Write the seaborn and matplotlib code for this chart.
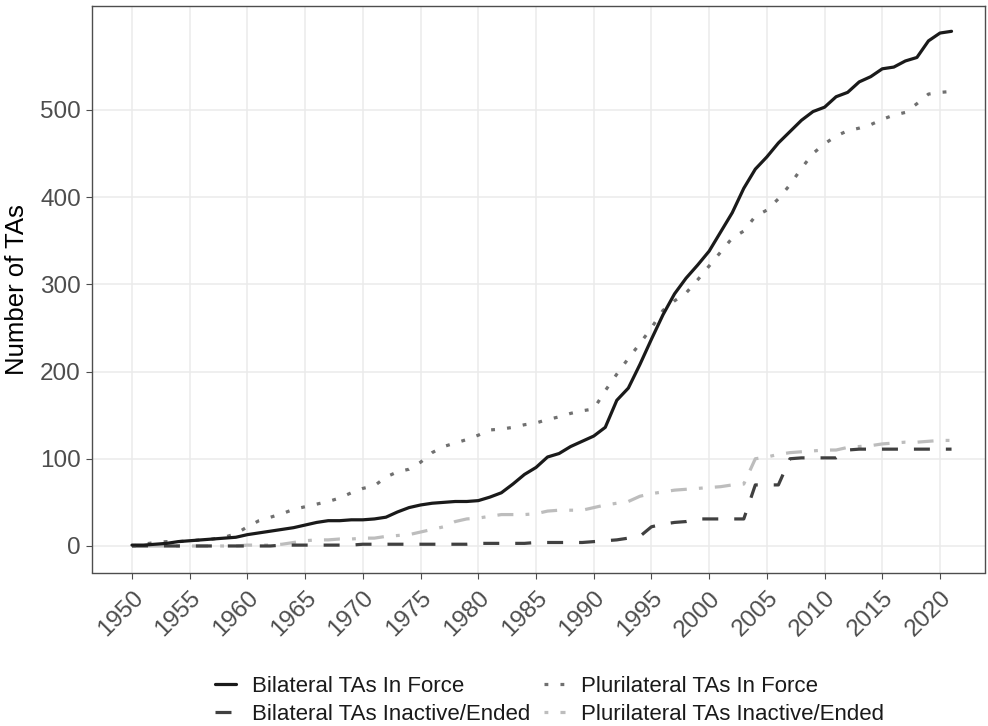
import numpy as np
import pandas as pd
import matplotlib
matplotlib.use("Agg")
import matplotlib.pyplot as plt
import seaborn as sns

years = list(range(1950, 2022))

bilateral_in_force = [
    1, 1, 2, 3, 5, 6, 7, 8, 9, 10,
    13, 15, 17, 19, 21, 24, 27, 29, 29, 30,
    30, 31, 33, 39, 44, 47, 49, 50, 51, 51,
    52, 56, 61, 71, 82, 90, 102, 106, 114, 120,
    126, 136, 167, 181, 208, 237, 265, 289, 307, 322,
    338, 360, 382, 410, 432, 446, 462, 475, 488, 498,
    503, 515, 520, 532, 538, 547, 549, 556, 560, 579,
    588, 590,
]

plurilateral_in_force = [
    0, 2, 4, 5, 5, 6, 7, 8, 10, 14,
    22, 29, 33, 37, 42, 45, 48, 51, 55, 61,
    66, 69, 79, 85, 88, 96, 107, 114, 118, 122,
    127, 133, 134, 136, 139, 141, 145, 148, 152, 155,
    157, 178, 197, 215, 232, 250, 270, 281, 290, 305,
    321, 337, 353, 361, 378, 385, 398, 414, 433, 450,
    461, 470, 476, 479, 483, 489, 494, 497, 507, 518,
    520, 521,
]

bilateral_inactive = [
    0, 0, 0, 0, 0, 0, 0, 0, 0, 0,
    0, 0, 0, 1, 1, 1, 1, 1, 1, 1,
    2, 2, 2, 2, 2, 2, 2, 2, 2, 2,
    3, 3, 3, 3, 3, 4, 4, 4, 4, 4,
    5, 6, 7, 9, 11, 22, 25, 27, 28, 31,
    31, 31, 31, 31, 70, 70, 70, 100, 101, 101,
    101, 101, 110, 111, 111, 111, 111, 111, 111, 111,
    111, 111,
]

plurilateral_inactive = [
    0, 0, 0, 0, 0, 0, 0, 0, 0, 0,
    1, 1, 1, 2, 4, 6, 7, 7, 8, 8,
    9, 9, 11, 12, 13, 16, 19, 22, 28, 31,
    32, 34, 36, 36, 36, 37, 40, 41, 41, 41,
    44, 47, 49, 51, 57, 60, 62, 64, 65, 66,
    67, 68, 70, 71, 100, 102, 105, 107, 108, 109,
    110, 110, 113, 114, 115, 117, 118, 119, 119, 120,
    121, 121,
]

series_labels = [
    "Bilateral TAs In Force",
    "Bilateral TAs Inactive/Ended",
    "Plurilateral TAs In Force",
    "Plurilateral TAs Inactive/Ended",
]

x_ticks = list(range(1950, 2021, 5))
y_ticks = [0, 100, 200, 300, 400, 500]

sns.set_theme(style="whitegrid")
plt.rcParams["font.family"] = ["Liberation Sans", "DejaVu Sans"]

fig = plt.figure(figsize=(9.88, 7.26), dpi=100)
ax = fig.add_axes([92 / 988, 1 - 572.5 / 726, 893 / 988, 566.5 / 726])

lw = 2.3
styles = {
    "Bilateral TAs In Force": dict(color="#1a1a1a", dashes=None),
    "Bilateral TAs Inactive/Ended": dict(color="#404040", dashes=(5.0, 5.0)),
    "Plurilateral TAs In Force": dict(color="#707070", dashes=(1.2, 3.8)),
    "Plurilateral TAs Inactive/Ended": dict(color="#bdbdbd", dashes=(1.2, 3.8, 5.0, 3.8)),
}
data_map = {
    "Bilateral TAs In Force": bilateral_in_force,
    "Bilateral TAs Inactive/Ended": bilateral_inactive,
    "Plurilateral TAs In Force": plurilateral_in_force,
    "Plurilateral TAs Inactive/Ended": plurilateral_inactive,
}

draw_order = [
    "Plurilateral TAs Inactive/Ended",
    "Bilateral TAs Inactive/Ended",
    "Plurilateral TAs In Force",
    "Bilateral TAs In Force",
]
handles = {}
for name in draw_order:
    df = pd.DataFrame({"year": years, "n": data_map[name]})
    sns.lineplot(data=df, x="year", y="n", ax=ax, color=styles[name]["color"],
                 linewidth=lw, legend=False)
    line = ax.lines[-1]
    if styles[name]["dashes"] is not None:
        line.set_dashes(styles[name]["dashes"])
    line.set_dash_capstyle("butt")
    handles[name] = line

ax.set_xlim(1950 - 40 / 11.543, 2020 + 45 / 11.543)
ax.set_ylim(-30.4, 619)
ax.set_xticks(x_ticks)
ax.set_yticks(y_ticks)
ax.set_xticklabels([str(t) for t in x_ticks], rotation=45, ha="right", va="top",
                   rotation_mode="anchor", fontsize=17.5, color="#4d4d4d")
ax.set_yticklabels([str(t) for t in y_ticks], fontsize=17.5, color="#4d4d4d")
ax.set_xlabel("")
ax.set_ylabel("Number of TAs", fontsize=18.5, color="black", labelpad=8)

ax.grid(True, color="#ebebeb", linewidth=1.1)
ax.set_facecolor("white")
for sp in ax.spines.values():
    sp.set_visible(True)
    sp.set_color("#4d4d4d")
    sp.set_linewidth(1.0)
ax.tick_params(axis="both", which="major", length=4, width=0.8, color="#4d4d4d",
               bottom=True, left=True)
ax.tick_params(axis="x", pad=6.5)
ax.tick_params(axis="y", pad=4)

leg = fig.legend([handles[n] for n in series_labels], series_labels,
                 loc="center", bbox_to_anchor=(0.556, 0.0355), ncol=2,
                 frameon=False, fontsize=16, handlelength=0.95,
                 handletextpad=0.72, columnspacing=0.6, labelspacing=0.32,
                 borderpad=0.2)
for t in leg.get_texts():
    t.set_color("#1a1a1a")

fig.savefig("out.png", dpi=100)
